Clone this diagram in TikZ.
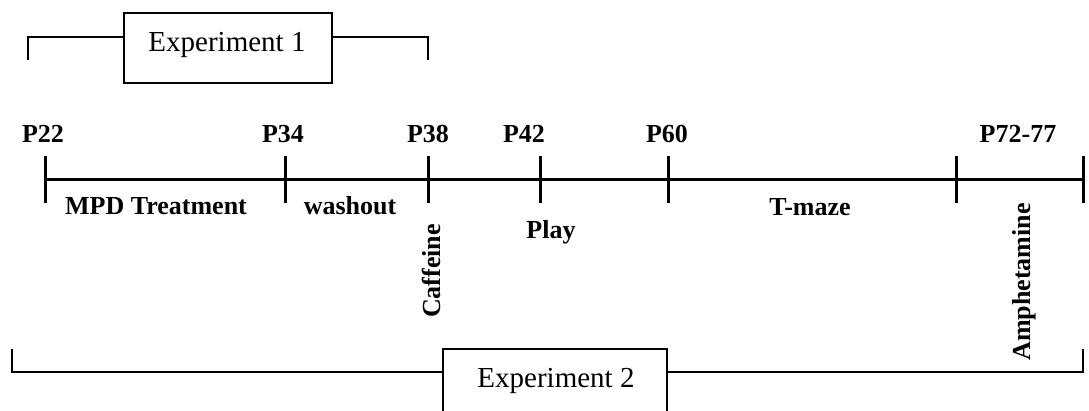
\documentclass[tikz,border=0pt]{standalone}
\usepackage{fontspec}
\setmainfont{Liberation Serif}
\begin{document}
\begin{tikzpicture}[x=1pt,y=-1pt,
  axis/.style={line width=3pt},
  tick/.style={line width=3pt},
  brack/.style={line width=2pt},
  ebox/.style={draw,line width=1.5pt,minimum width=208pt,minimum height=70pt,inner sep=0pt},
  plabel/.style={font=\fontsize{26}{30}\selectfont\bfseries,anchor=base,inner sep=0pt},
  lab/.style={font=\fontsize{26}{30}\selectfont\bfseries,inner sep=0pt},
  etext/.style={font=\fontsize{29}{33}\selectfont,anchor=base,inner sep=0pt}]
\useasboundingbox (0,0) rectangle (1089,411);
% tick coordinates
\coordinate (t1) at (45,180);
\coordinate (t2) at (285,180);
\coordinate (t3) at (428,180);
\coordinate (t4) at (540,180);
\coordinate (t5) at (668,180);
\coordinate (t6) at (956,180);
\coordinate (t7) at (1083,180);
\draw[axis] (t1) -- (t7);
\foreach \t in {t1,t2,t3,t4,t5,t6,t7}{
  \draw[tick] ([yshift=-23pt]\t) -- ([yshift=24pt]\t);
}
% labels above
\node[plabel] (p22) at (43,143) {P22};
\node[plabel] (p34) at (283,143) {P34};
\node[plabel] (p38) at (428,143) {P38};
\node[plabel] (p42) at (524,143) {P42};
\node[plabel] (p60) at (667,143) {P60};
\node[plabel] (p72) at (1018,143) {P72-77};
% labels below
\node[plabel] (mpd) at (156,215) {MPD Treatment};
\node[plabel] (wash) at (350,215) {washout};
\node[plabel] (tmaze) at (810,216) {T-maze};
\node[plabel] (play) at (551,239) {Play};
\node[lab,rotate=90] (caff) at (431,271) {Caffeine};
\node[lab,rotate=90] (amph) at (1024,282) {Amphetamine};
% Experiment 1
\node[ebox] (e1box) at (228,48) {};
\node[etext] (e1) at (227,52) {Experiment 1};
\coordinate (e1l) at (28,60);
\coordinate (e1r) at (428,60);
\draw[brack] (e1l) |- (e1box.west |- 0,37);
\draw[brack] (e1r) |- (e1box.east |- 0,37);
% Experiment 2
\node[ebox,minimum width=224pt] (e2box) at (555,384) {};
\node[etext] (e2) at (556,387) {Experiment 2};
\coordinate (e2l) at (12,349);
\coordinate (e2r) at (1083,349);
\draw[brack] (e2l) |- (e2box.west |- 0,372);
\draw[brack] (e2r) |- (e2box.east |- 0,372);
\end{tikzpicture}
\end{document}
